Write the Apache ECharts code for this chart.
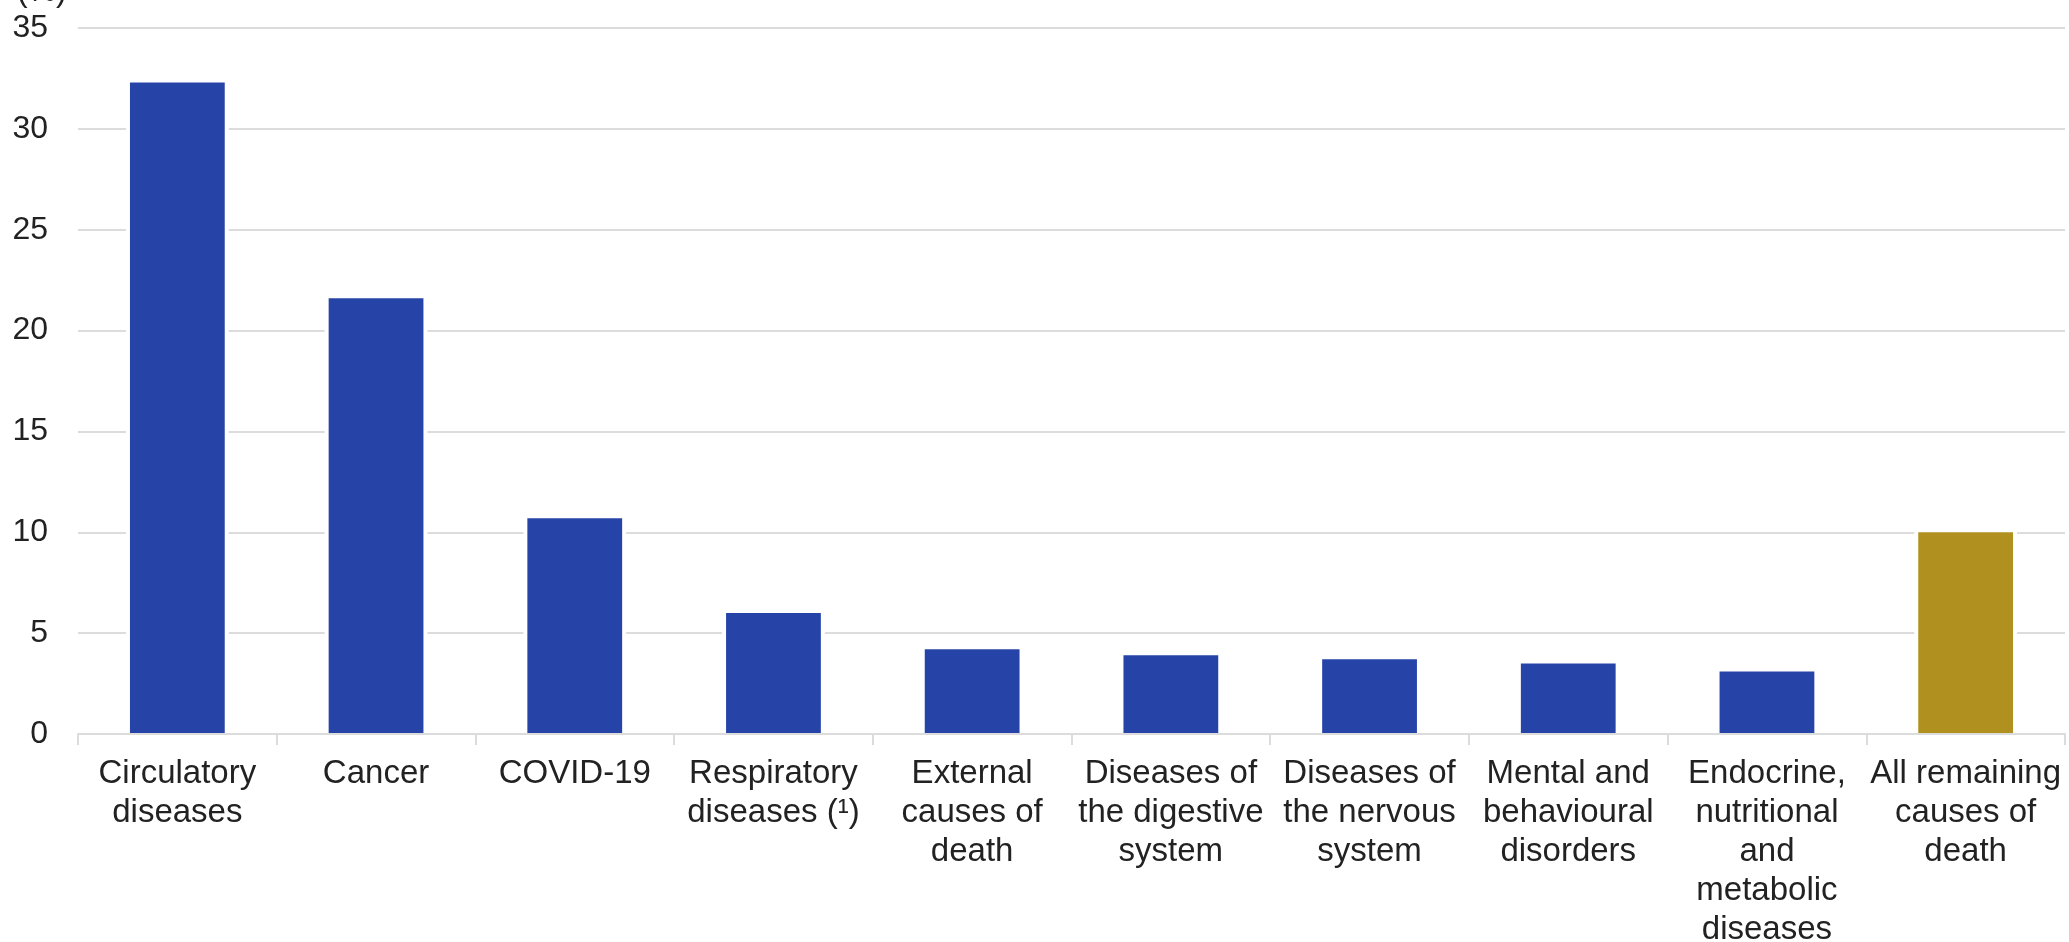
<!DOCTYPE html>
<html>
<head>
<meta charset="utf-8">
<title>Causes of death</title>
<script src="https://cdn.jsdelivr.net/npm/echarts@6/dist/echarts.min.js"></script>
<style>
  html, body { margin: 0; padding: 0; background: #fff; }
  #chart { width: 2069px; height: 942px; }
</style>
</head>
<body>
<div id="chart"></div>
<script>
// Share of deaths by cause (%)
const categories = [
  'Circulatory\ndiseases',
  'Cancer',
  'COVID-19',
  'Respiratory\ndiseases (\u00b9)',
  'External\ncauses of\ndeath',
  'Diseases of\nthe digestive\nsystem',
  'Diseases of\nthe nervous\nsystem',
  'Mental and\nbehavioural\ndisorders',
  'Endocrine,\nnutritional\nand\nmetabolic\ndiseases',
  'All remaining\ncauses of\ndeath'
];
const shares = [32.3, 21.6, 10.7, 6.0, 4.2, 3.9, 3.7, 3.5, 3.1, 10.0];
// the last category is the residual group, drawn in gold
const residualIndex = 9;
const yTicks = { min: 0, max: 35, step: 5 };
const unitLabel = '(%)';

const BLUE = '#2644A7';
const GOLD = '#B09120';
const GRID_GREY = '#dcdcdc';
const TEXT = '#222222';
const FONT = '"Liberation Sans", Arial, sans-serif';
const BAR_FRACTION = 0.477; // bar width as a share of the category band
const HALO = 4;             // white outline that interrupts the gridlines

const chart = echarts.init(document.getElementById('chart'), null, { renderer: 'canvas' });

// Bars with a white halo on the sides and top, positioned through the axes
function renderBar(params, api) {
  const idx = api.value(0);
  const val = api.value(1);
  const top = api.coord([idx, val]);
  const base = api.coord([idx, 0]);
  const w = api.size([1, 0])[0] * BAR_FRACTION;
  const x = top[0] - w / 2;
  const h = base[1] - top[1];
  const color = idx === residualIndex ? GOLD : BLUE;
  return {
    type: 'group',
    children: [
      {
        type: 'rect',
        shape: { x: x - HALO, y: top[1] - HALO, width: w + 2 * HALO, height: h + HALO },
        style: { fill: '#ffffff' }
      },
      {
        type: 'rect',
        shape: { x: x, y: top[1], width: w, height: h },
        style: { fill: color }
      }
    ]
  };
}

chart.setOption({
  animation: false,
  backgroundColor: '#ffffff',
  textStyle: { fontFamily: FONT },
  grid: {
    left: 78, right: 4, top: 28, bottom: 208,
    containLabel: false,
    outerBoundsMode: 'none'
  },
  graphic: [{
    type: 'text',
    left: 17,
    top: -24,
    style: { text: unitLabel, font: '32px ' + FONT, fill: TEXT }
  }],
  xAxis: {
    type: 'category',
    data: categories,
    z: 3,
    boundaryGap: true,
    axisLine: { show: true, lineStyle: { color: GRID_GREY, width: 2 } },
    axisTick: { show: true, length: 11, lineStyle: { color: GRID_GREY, width: 2 } },
    axisLabel: {
      interval: 0,
      margin: 20,
      color: TEXT,
      fontSize: 33,
      lineHeight: 39,
      fontFamily: FONT,
      align: 'center'
    },
    splitLine: { show: false }
  },
  yAxis: {
    type: 'value',
    min: yTicks.min,
    max: yTicks.max,
    interval: yTicks.step,
    axisLine: { show: false },
    axisTick: { show: false },
    axisLabel: { color: TEXT, fontSize: 32, fontFamily: FONT, margin: 30 },
    splitLine: { show: true, lineStyle: { color: GRID_GREY, width: 2 } }
  },
  series: [{
    type: 'custom',
    renderItem: renderBar,
    encode: { x: 0, y: 1 },
    data: shares.map((v, i) => [i, v])
  }]
});
</script>
</body>
</html>
